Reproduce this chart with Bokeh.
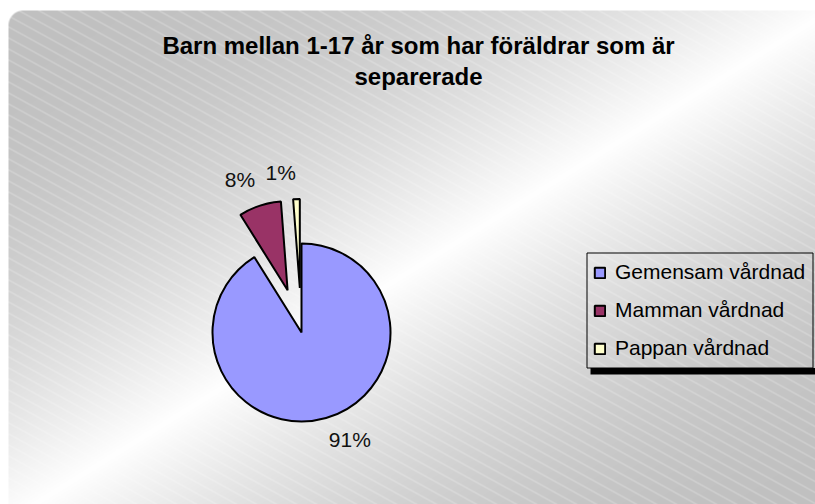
import numpy as np
from bokeh.plotting import figure
from bokeh.models import Range1d, Legend, LegendItem
from bokeh.core.properties import value
from bokeh.embed import file_html
from bokeh.resources import INLINE

# ---- data ----
title_lines = ["Barn mellan 1-17 år som har föräldrar som är", "separerade"]
categories = ["Gemensam vårdnad", "Mamman vårdnad", "Pappan vårdnad"]
shares = [91.1, 7.7, 1.2]
pct_labels = ["91%", "8%", "1%"]
colors = ["#9999FF", "#993366", "#FFFFCC"]
explode = [0.0, 0.5, 0.5]

W, H = 815, 504
p = figure(width=W, height=H, x_range=Range1d(0, W), y_range=Range1d(0, H),
           output_backend="svg", toolbar_location=None, min_border=0,
           x_axis_type=None, y_axis_type=None,
           border_fill_color="white", background_fill_color="white",
           outline_line_color=None)
p.grid.visible = False

# ---- background: diagonal gradient + fine hatch + rounded corner ----
ys, xs = np.mgrid[0:H, 0:W]
sx = xs + 0.5
sy = ys + 0.5
left, top = 8.0, 10.0
CW, CH = 822.0, 510.0
t = (sx - left) / CW + (sy - top) / CH
s = np.clip(1 - np.abs(t - 1), 0, 1) ** 2.2
g = 192 + 63 * s
slope = 0.55
period = 11.0
u = (sy - slope * sx) % period
d = np.minimum(u, period - u) * np.cos(np.arctan(slope))
hatch = np.clip(1 - d, 0, 1) * 0.35
g = g + (255 - g) * hatch
r = 15.0
corner = (sx < left + r) & (sy < top + r)
dist = np.hypot(sx - (left + r), sy - (top + r))
a = np.where(corner, np.clip(r + 0.5 - dist, 0, 1), 1.0)
a = a * np.clip(sy - top + 0.5, 0, 1) * np.clip(sx - left + 0.5, 0, 1)
g = 255 + (g - 255) * a
img = np.empty((H, W), dtype=np.uint32)
view = img.view(dtype=np.uint8).reshape((H, W, 4))
gv = np.clip(g, 0, 255).astype(np.uint8)
view[..., 0] = gv
view[..., 1] = gv
view[..., 2] = gv
view[..., 3] = 255
p.image_rgba(image=[img[::-1].copy()], x=0, y=0, dw=W, dh=H)

# ---- pie ----
vals = np.array(shares, dtype=float)
fr = vals / vals.sum()
cum = np.concatenate([[0.0], np.cumsum(fr)])
start = np.pi / 2 - cum[:-1] * 2 * np.pi
end = np.pi / 2 - cum[1:] * 2 * np.pi
mid = (start + end) / 2
cx, cy = 301.0, 172.0
R = 89.0
ex = cx + np.array(explode) * R * np.cos(mid)
ey = cy + np.array(explode) * R * np.sin(mid)

renderers = []
for i in range(len(categories)):
    rr = p.wedge(x=[ex[i]], y=[ey[i]], radius=R, radius_units="screen",
                 start_angle=[start[i]], end_angle=[end[i]], direction="clock",
                 fill_color=colors[i], line_color="black", line_width=2)
    renderers.append(rr)

for i in range(len(categories)):
    c = np.cos(mid[i])
    below = np.sin(mid[i]) < 0
    gap = 10.0 if below else 15.0
    lx = ex[i] + (R + gap) * np.cos(mid[i])
    ly = ey[i] + (R + gap) * np.sin(mid[i])
    align = "left" if c > 0.02 else ("right" if c < -0.02 else "center")
    base = "top" if below else "bottom"
    p.text(x=[lx], y=[ly], text=[pct_labels[i]], text_align=align,
           text_baseline=base, text_font=value("Liberation Sans"),
           text_font_size="21px", text_color="#111111")

# ---- title ----
p.text(x=[418, 418], y=[459, 428], text=title_lines, text_align="center",
       text_baseline="alphabetic", text_font=value("Liberation Sans"),
       text_font_style="bold", text_font_size="24px", text_color="black")

# ---- legend ----
p.quad(left=[590], right=[W], top=[136.5], bottom=[130], fill_color="black", line_color=None)
p.quad(left=[586.5], right=[812.5], top=[251.5], bottom=[136.5], fill_alpha=0,
       line_color="black", line_width=1)
legend = Legend(items=[LegendItem(label=categories[i], renderers=[renderers[i]])
                       for i in range(len(categories))],
                location=(593, 137), padding=0, margin=0, spacing=0,
                glyph_width=13, glyph_height=13, label_standoff=9,
                label_height=38, label_text_font="Liberation Sans",
                label_text_font_size="21px", label_text_color="black",
                border_line_color=None, background_fill_alpha=0)
p.add_layout(legend)

open("out.html", "w").write(file_html(p, INLINE))
